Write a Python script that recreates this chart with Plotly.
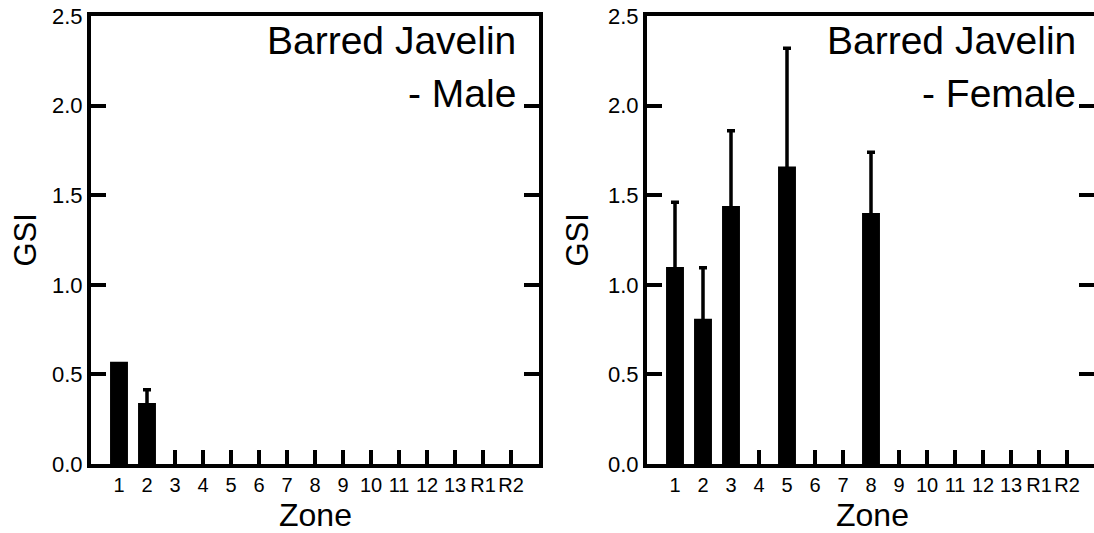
import plotly.graph_objects as go

zones = ["1", "2", "3", "4", "5", "6", "7", "8", "9", "10", "11", "12", "13", "R1", "R2"]
male_gsi = [0.57, 0.34, 0, 0, 0, 0, 0, 0, 0, 0, 0, 0, 0, 0, 0]
male_se = [None, 0.075, None, None, None, None, None, None, None, None, None, None, None, None, None]
female_gsi = [1.10, 0.81, 1.44, 0, 1.66, 0, 0, 1.40, 0, 0, 0, 0, 0, 0, 0]
female_se = [0.36, 0.285, 0.42, None, 0.66, None, None, 0.34, None, None, None, None, None, None, None]
y_ticks = [0.0, 0.5, 1.0, 1.5, 2.0, 2.5]
panel_titles = ["Barred Javelin", "- Male", "- Female"]

W, H = 1094, 533
FONT = "Liberation Sans, Arial, sans-serif"
SHOE_SINK = 0.012  # hide the lower cap of the error bar inside the bar

fig = go.Figure()

def add_panel(vals, errs, xa, ya):
    fig.add_trace(go.Bar(x=zones, y=vals, marker=dict(color="black", line=dict(width=0)),
                         xaxis=xa, yaxis=ya, showlegend=False, hoverinfo="skip"))
    ex = [z for z, e in zip(zones, errs) if e is not None]
    ey = [v for v, e in zip(vals, errs) if e is not None]
    ee = [e for e in errs if e is not None]
    fig.add_trace(go.Scatter(x=ex, y=ey, mode="markers", marker=dict(size=1, opacity=0),
                             error_y=dict(type="data", array=ee, arrayminus=[SHOE_SINK] * len(ee),
                                          symmetric=False, color="black", thickness=3.5, width=4),
                             xaxis=xa, yaxis=ya, showlegend=False, hoverinfo="skip"))

add_panel(male_gsi, male_se, "x", "y")
add_panel(female_gsi, female_se, "x2", "y2")

y_top, y_bot = 16, 464
ydom = [1 - y_bot / H, 1 - y_top / H]
sp = 28.0

def xaxis_cfg(left, right, c0):
    return dict(domain=[left / W, min(right / W, 1.0)], range=[(left - c0) / sp, (min(right, W) - c0) / sp],
                type="category", showline=True, linewidth=4, linecolor="black", mirror=True,
                ticks="inside", ticklen=14, tickwidth=3.5, tickcolor="black",
                tickfont=dict(family=FONT, size=20, color="black"), showgrid=False, zeroline=False,
                fixedrange=True, automargin=False)

def yaxis_cfg():
    return dict(domain=ydom, range=[0, 2.5], tickvals=y_ticks, ticktext=[f"{v:.1f}" for v in y_ticks],
                showline=True, linewidth=4, linecolor="black", mirror="ticks",
                ticks="inside", ticklen=15, tickwidth=4, tickcolor="black",
                tickfont=dict(family=FONT, size=22, color="black"), showgrid=False, zeroline=False,
                fixedrange=True, automargin=False)

fig.update_layout(
    template="none",
    width=W, height=H, margin=dict(l=0, r=0, t=0, b=0, pad=0, autoexpand=False),
    paper_bgcolor="white", plot_bgcolor="white", bargap=0.36,
    xaxis=dict(xaxis_cfg(91, 539, 119), anchor="y"), yaxis=dict(yaxis_cfg(), anchor="x"),
    xaxis2=dict(xaxis_cfg(647, 1097, 675), anchor="y2"), yaxis2=dict(yaxis_cfg(), anchor="x2"),
)

ann = []
for right, sub, gsi_x, zone_x in [(518, panel_titles[1], 24.5, 315), (1078, panel_titles[2], 576.5, 872)]:
    ann.append(dict(text=panel_titles[0], x=right / W, y=1 - 40 / H, xref="paper", yref="paper",
                    xanchor="right", yanchor="middle", showarrow=False,
                    font=dict(family=FONT, size=39, color="black")))
    ann.append(dict(text=sub, x=right / W, y=1 - 93 / H, xref="paper", yref="paper",
                    xanchor="right", yanchor="middle", showarrow=False,
                    font=dict(family=FONT, size=39, color="black")))
    ann.append(dict(text="GSI", x=gsi_x / W, y=1 - 240 / H, xref="paper", yref="paper",
                    xanchor="center", yanchor="middle", textangle=-90, showarrow=False,
                    font=dict(family=FONT, size=31, color="black")))
    ann.append(dict(text="Zone", x=zone_x / W, y=1 - 515 / H, xref="paper", yref="paper",
                    xanchor="center", yanchor="middle", showarrow=False,
                    font=dict(family=FONT, size=32, color="black")))
fig.update_layout(annotations=ann)

fig.write_html("out.html", config={"displayModeBar": False})
